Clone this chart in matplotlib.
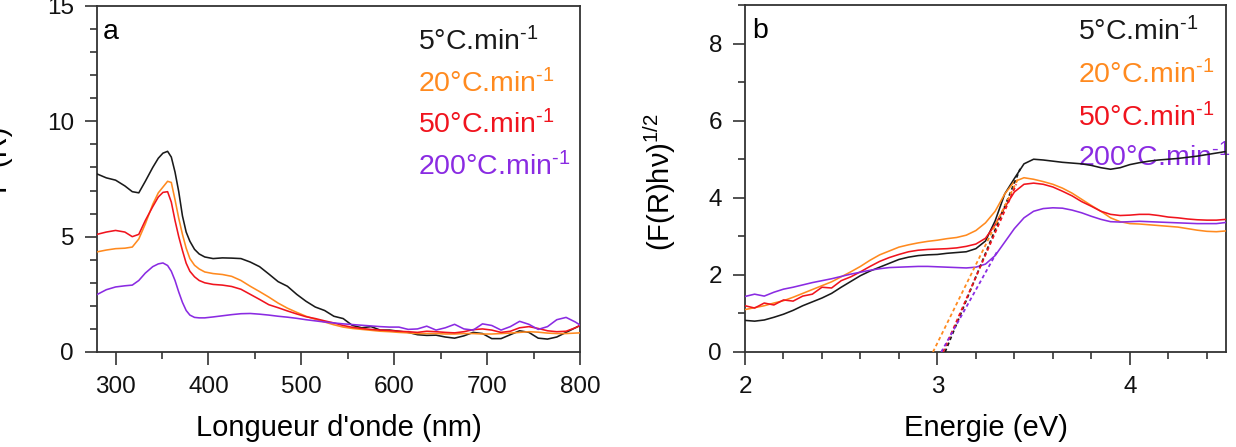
import matplotlib
matplotlib.use("Agg")
import matplotlib.pyplot as plt
from matplotlib.ticker import MultipleLocator

plt.rcParams['font.family'] = ['Liberation Sans', 'DejaVu Sans']
plt.rcParams['mathtext.fontset'] = 'custom'
plt.rcParams['mathtext.rm'] = 'Liberation Sans'
plt.rcParams['mathtext.it'] = 'Liberation Sans:italic'
plt.rcParams['mathtext.bf'] = 'Liberation Sans:bold'

# ---------------- data ----------------
series_labels = ["5°C.min$^{\u20101}$", "20°C.min$^{\u20101}$", "50°C.min$^{\u20101}$", "200°C.min$^{\u20101}$"]
series_colors = ["#1a1a1a", "#FF8A1F", "#F0141E", "#8A2BE2"]

# panel a : F(R) vs wavelength (nm)
wavelength = [280, 290, 300, 310, 318, 325, 332, 340, 346, 351, 356, 360, 364, 368, 372,
              376, 380, 385, 390, 396, 405, 415, 425, 435, 445, 455, 465, 475, 485, 495,
              505, 515, 525, 535, 545, 555, 565, 575, 585, 595, 605, 615, 625, 635, 645,
              655, 665, 675, 685, 695, 705, 715, 725, 735, 745, 755, 765, 775, 785, 795, 800]
fr_5 = [7.72, 7.55, 7.45, 7.2, 6.95, 6.9, 7.4, 8.0, 8.4, 8.62, 8.7, 8.45, 7.8, 6.95, 5.9,
        5.2, 4.8, 4.45, 4.25, 4.12, 4.05, 4.08, 4.07, 4.05, 3.9, 3.7, 3.38, 3.05, 2.85, 2.5,
        2.2, 1.95, 1.8, 1.55, 1.45, 1.15, 1.05, 1.1, 0.95, 0.95, 0.9, 0.85, 0.75, 0.72, 0.73,
        0.65, 0.6, 0.7, 0.85, 0.8, 0.58, 0.58, 0.75, 0.92, 0.85, 0.6, 0.56, 0.65, 0.85, 1.05, 1.15]
fr_20 = [4.34, 4.42, 4.48, 4.5, 4.55, 4.9, 5.55, 6.4, 6.9, 7.15, 7.4, 7.35, 6.6, 5.8, 5.1,
         4.5, 4.05, 3.76, 3.6, 3.47, 3.4, 3.36, 3.28, 3.1, 2.85, 2.62, 2.38, 2.12, 1.9, 1.72,
         1.55, 1.42, 1.3, 1.18, 1.08, 1.02, 0.98, 0.94, 0.9, 0.88, 0.85, 0.83, 0.8, 0.8, 0.8,
         0.78, 0.78, 0.8, 0.8, 0.78, 0.78, 0.8, 0.82, 0.85, 0.88, 0.86, 0.82, 0.8, 0.8, 0.82, 0.83]
fr_50 = [5.1, 5.2, 5.27, 5.2, 5.0, 5.1, 5.7, 6.3, 6.72, 6.92, 6.95, 6.5, 5.7, 5.0, 4.4,
         3.85, 3.5, 3.26, 3.1, 3.0, 2.93, 2.9, 2.84, 2.72, 2.5, 2.28, 2.05, 1.92, 1.78, 1.65,
         1.53, 1.45, 1.35, 1.26, 1.15, 1.07, 1.02, 0.98, 0.95, 0.93, 0.9, 0.88, 0.85, 0.9, 0.88,
         0.85, 0.83, 0.88, 0.97, 1.0, 0.95, 0.85, 0.9, 1.05, 1.1, 1.02, 0.92, 0.88, 0.9, 1.05, 1.15]
fr_200 = [2.49, 2.7, 2.82, 2.87, 2.9, 3.1, 3.42, 3.7, 3.82, 3.86, 3.75, 3.5, 3.1, 2.6, 2.15,
          1.8, 1.6, 1.5, 1.48, 1.48, 1.52, 1.57, 1.62, 1.66, 1.67, 1.64, 1.6, 1.55, 1.51, 1.46,
          1.4, 1.35, 1.3, 1.26, 1.22, 1.19, 1.16, 1.13, 1.1, 1.08, 1.08, 0.98, 1.0, 1.12, 0.95,
          1.05, 1.2, 1.0, 0.95, 1.22, 1.15, 0.95, 1.1, 1.33, 1.2, 0.98, 1.1, 1.4, 1.5, 1.3, 1.17]

# panel b : (F(R)hv)^1/2 vs energy (eV)
energy = [2.00, 2.05, 2.10, 2.15, 2.20, 2.25, 2.30, 2.35, 2.40, 2.45, 2.50, 2.55, 2.60,
          2.65, 2.70, 2.75, 2.80, 2.85, 2.90, 2.95, 3.00, 3.05, 3.10, 3.15, 3.20, 3.25,
          3.30, 3.35, 3.40, 3.45, 3.50, 3.55, 3.60, 3.65, 3.70, 3.75, 3.80, 3.85, 3.90,
          3.95, 4.00, 4.05, 4.10, 4.15, 4.20, 4.25, 4.30, 4.35, 4.40, 4.45, 4.50]
tauc_5 = [0.82, 0.8, 0.83, 0.9, 0.98, 1.08, 1.2, 1.3, 1.4, 1.52, 1.68, 1.83, 1.98,
          2.1, 2.2, 2.3, 2.4, 2.46, 2.5, 2.52, 2.53, 2.56, 2.58, 2.6, 2.68, 2.88,
          3.4, 4.1, 4.5, 4.88, 5.0, 4.98, 4.95, 4.92, 4.9, 4.88, 4.84, 4.78, 4.74,
          4.78, 4.86, 4.91, 4.95, 4.98, 5.0, 5.02, 5.05, 5.08, 5.12, 5.16, 5.2]
tauc_20 = [1.1, 1.15, 1.2, 1.27, 1.33, 1.42, 1.52, 1.62, 1.72, 1.82, 1.95, 2.08, 2.22,
           2.38, 2.52, 2.62, 2.72, 2.78, 2.83, 2.87, 2.9, 2.94, 2.97, 3.03, 3.15, 3.35,
           3.65, 4.1, 4.42, 4.52, 4.48, 4.42, 4.35, 4.25, 4.12, 3.96, 3.8, 3.65, 3.48,
           3.38, 3.33, 3.32, 3.3, 3.28, 3.26, 3.24, 3.2, 3.16, 3.13, 3.12, 3.14]
tauc_50 = [1.2, 1.14, 1.27, 1.22, 1.35, 1.32, 1.45, 1.5, 1.68, 1.66, 1.85, 1.95, 2.08,
           2.22, 2.35, 2.45, 2.53, 2.6, 2.64, 2.66, 2.67, 2.68, 2.7, 2.74, 2.8, 2.95,
           3.3, 3.75, 4.15, 4.35, 4.38, 4.35, 4.28, 4.17, 4.05, 3.9, 3.78, 3.65, 3.57,
           3.54, 3.55, 3.57, 3.57, 3.54, 3.5, 3.48, 3.45, 3.43, 3.42, 3.42, 3.44]
tauc_200 = [1.44, 1.5, 1.45, 1.55, 1.63, 1.68, 1.74, 1.8, 1.85, 1.9, 1.96, 2.02, 2.07,
            2.12, 2.16, 2.19, 2.2, 2.21, 2.22, 2.22, 2.21, 2.2, 2.19, 2.18, 2.2, 2.28,
            2.5, 2.85, 3.2, 3.48, 3.65, 3.72, 3.74, 3.73, 3.68, 3.61, 3.52, 3.44, 3.38,
            3.37, 3.38, 3.39, 3.38, 3.37, 3.36, 3.35, 3.34, 3.33, 3.33, 3.33, 3.36]

# linear extrapolations (band gap tangents): x-intercept and upper end point
tangent_eg = [3.04, 2.977, 3.03, 3.02]
tangent_x_top = [3.43, 3.42, 3.41, 3.31]
tangent_y_top = [4.75, 4.5, 4.35, 2.6]

xticks_a = [300, 400, 500, 600, 700, 800]
yticks_a = [0, 5, 10, 15]
xticks_b = [2, 3, 4]
yticks_b = [0, 2, 4, 6, 8]

# ---------------- figure ----------------
W, H = 1236, 447
fig = plt.figure(figsize=(W / 100, H / 100), dpi=100)

def frac_box(l, r, t, b):
    return [l / W, 1 - b / H, (r - l) / W, (b - t) / H]

ax1 = fig.add_axes(frac_box(97, 580, 6, 352))
ax2 = fig.add_axes(frac_box(745, 1226, 5, 352))

spine_col = "#333333"
tick_fs = 17.5
text_fs = 20.5
label_fs = 21

for ax in (ax1, ax2):
    for s in ax.spines.values():
        s.set_color(spine_col)
        s.set_linewidth(1.3)
    ax.tick_params(which='both', direction='out', top=False, right=False,
                   color=spine_col, width=1.2, labelsize=tick_fs, labelcolor="#111111")
    ax.tick_params(which='major', length=9)
    ax.tick_params(axis='x', which='major', pad=8.5)
    ax.tick_params(axis='y', which='major', pad=7.5)
    ax.tick_params(which='minor', length=5)

lines_a = [fr_5, fr_20, fr_50, fr_200]
for vals, col in zip(lines_a, series_colors):
    ax1.plot(wavelength, vals, color=col, lw=1.15, zorder=3)
ax1.set_xlim(280, 800)
ax1.set_ylim(0, 15)
ax1.set_xticks(xticks_a)
ax1.set_yticks(yticks_a)
ax1.xaxis.set_minor_locator(MultipleLocator(50))
ax1.yaxis.set_minor_locator(MultipleLocator(1))
ax1.set_xlabel("Longueur d'onde (nm)", fontsize=label_fs, labelpad=11)

lines_b = [tauc_5, tauc_20, tauc_50, tauc_200]
for vals, col in zip(lines_b, series_colors):
    ax2.plot(energy, vals, color=col, lw=1.15, zorder=3)
for eg, xt, yt, col in zip(tangent_eg, tangent_x_top, tangent_y_top, series_colors):
    ax2.plot([eg, xt], [0, yt], color=col, lw=1.3, ls=(0, (2, 1.6)), zorder=3)
ax2.set_xlim(2, 4.5)
ax2.set_ylim(0, 9)
ax2.set_xticks(xticks_b)
ax2.set_yticks(yticks_b)
ax2.xaxis.set_minor_locator(MultipleLocator(0.2))
ax2.yaxis.set_minor_locator(MultipleLocator(1))
ax2.set_xlabel("Energie (eV)", fontsize=label_fs, labelpad=11)
ax2.set_ylabel("(F(R)hν)$^{1/2}$", fontsize=label_fs)
ax2.yaxis.set_label_coords(-0.139, 0.49)

# left y label (mostly cut off at the figure edge, as in the original)
fig.text(13 / W, 1 - 160 / H, "F (R)", fontsize=label_fs, rotation=90,
         rotation_mode='anchor', ha='center', va='bottom')

# legend texts
leg_y_a = [0.873, 0.751, 0.633, 0.512]
leg_y_b = [0.897, 0.774, 0.651, 0.534]
for lab, col, ya, yb in zip(series_labels, series_colors, leg_y_a, leg_y_b):
    ax1.text(0.665, ya, lab, color=col, fontsize=text_fs, transform=ax1.transAxes,
             va='baseline', ha='left', zorder=1)
    ax2.text(0.692, yb, lab, color=col, fontsize=text_fs, transform=ax2.transAxes,
             va='baseline', ha='left', zorder=1)

ax1.text(0.012, 0.905, "a", fontsize=text_fs, transform=ax1.transAxes, va='baseline')
ax2.text(0.016, 0.905, "b", fontsize=text_fs, transform=ax2.transAxes, va='baseline')

fig.savefig("out.png", dpi=100)
